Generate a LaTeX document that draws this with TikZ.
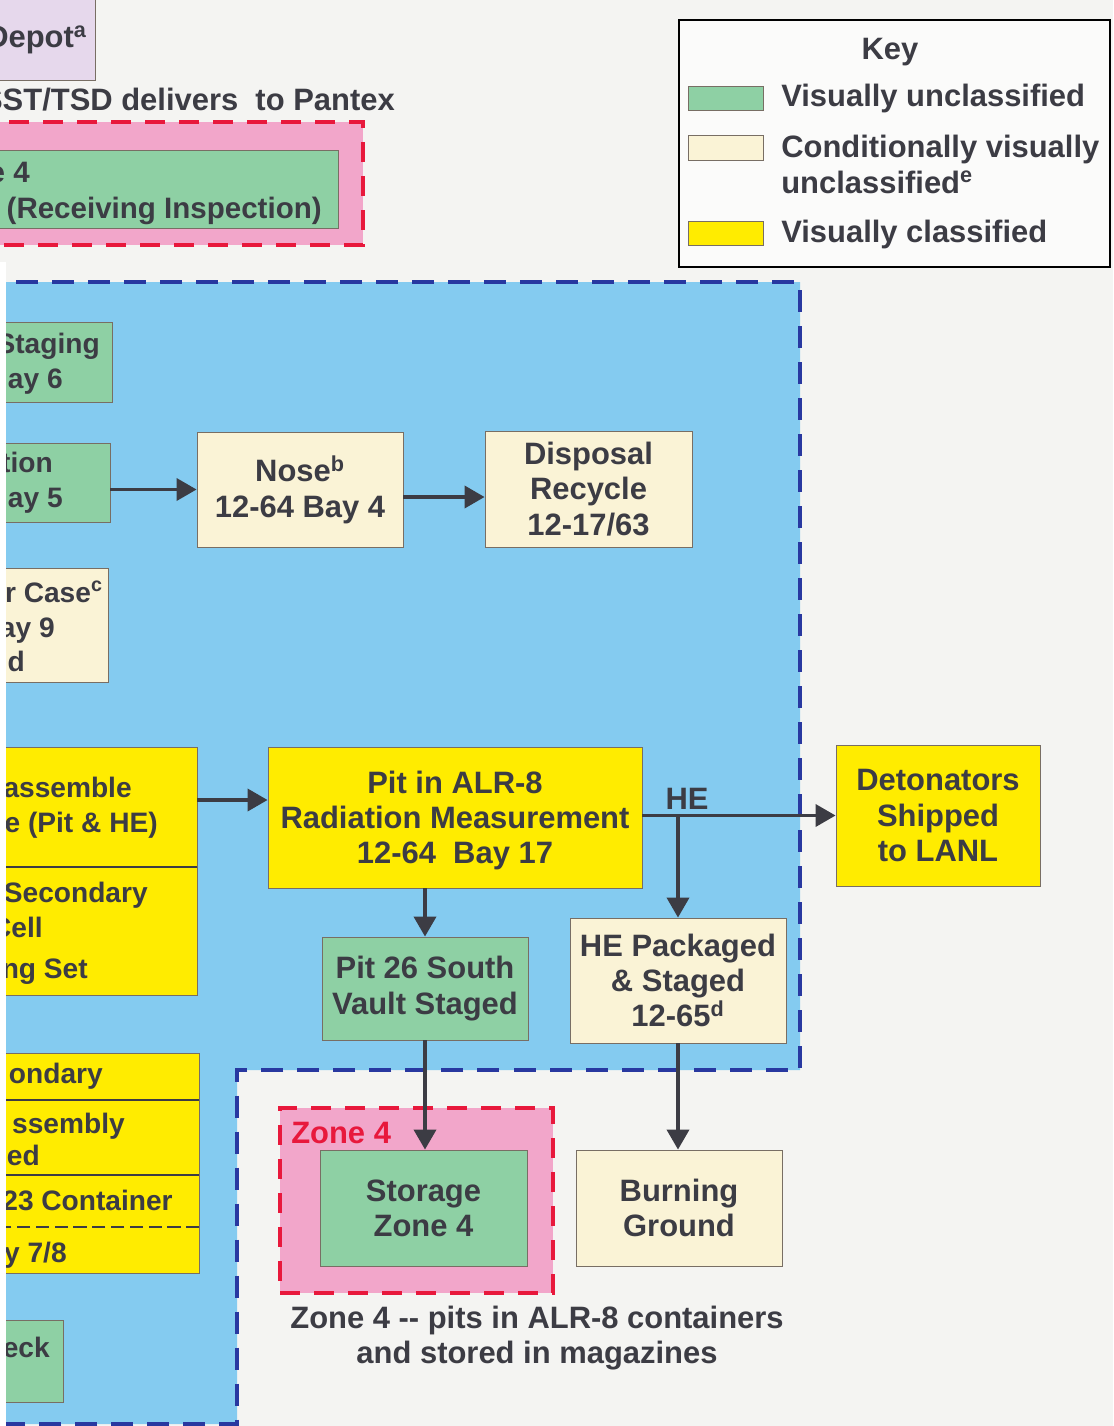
\documentclass[tikz,border=0pt]{standalone}
\usepackage{fontspec}
\setmainfont{Liberation Sans}
\usetikzlibrary{arrows.meta,fit}
\definecolor{bg}{RGB}{244,244,242}
\definecolor{skyb}{RGB}{132,203,240}
\definecolor{grn}{RGB}{142,208,164}
\definecolor{crm}{RGB}{250,243,214}
\definecolor{ylw}{RGB}{255,236,0}
\definecolor{pnk}{RGB}{242,166,202}
\definecolor{lav}{RGB}{230,216,236}
\definecolor{redd}{RGB}{232,24,60}
\definecolor{blud}{RGB}{40,56,160}
\definecolor{txt}{RGB}{60,60,68}
\definecolor{edge}{RGB}{120,110,100}
\begin{document}
\begin{tikzpicture}[x=0.025cm,y=-0.025cm,
  font=\bfseries\fontsize{22}{25}\selectfont, text=txt,
  box/.style={draw=edge, line width=0.6pt, inner sep=0pt, text=txt},
  gbox/.style={box, fill=grn},
  cbox/.style={box, fill=crm},
  ybox/.style={box, fill=ylw},
  arr/.style={draw=txt, line width=2.6pt, -{Triangle[length=0.5cm,width=0.55cm]}},
  dashb/.style={draw=blud, line width=2.8pt, dash pattern=on 0.55cm off 0.35cm},
  dashr/.style={draw=redd, line width=2.8pt, dash pattern=on 0.5cm off 0.35cm},
  lbl/.style={inner sep=0pt, text=txt},
  btxt/.style={lbl, align=center, anchor=center},
  rlbl/.style={lbl, anchor=base east, font=\bfseries\fontsize{20}{24}\selectfont},
  divl/.style={draw=txt, line width=1.8pt}]
\useasboundingbox (0,0) rectangle (1113,1426);
\clip (0,0) rectangle (1113,1426);
\fill[bg] (0,0) rectangle (1113,1426);
% blue region
\fill[skyb] (-20,282) -- (800,282) -- (800,1070) -- (237,1070) -- (237,1424) -- (-20,1424) -- cycle;
\draw[dashb] (-20,282) -- (800,282) -- (800,1070) -- (237,1070) -- (237,1424) -- (-20,1424);
% top left
\node[box, fill=lav, fit={(-60,-10) (95,80)}] (depot) {};
\node[lbl, anchor=base west] (depott) at (-14,48) {Depot\textsuperscript{a}};
\node[lbl, anchor=base east] (sst) at (395,110) {SST/TSD delivers\ \ to Pantex};
\node[fill=pnk, dashr, inner sep=0pt, fit={(-30,122) (363,245)}] (rz) {};
\node[gbox, fit={(-60,150) (338,228)}] (recv) {};
\node[lbl, anchor=base east, font=\bfseries\fontsize{21}{25}\selectfont] (recv1) at (30,182) {e 4};
\node[lbl, anchor=base east, font=\bfseries\fontsize{21}{25}\selectfont] (recv2) at (322,218) {(Receiving Inspection)};
% key
\node[draw=black, line width=1pt, fill=white!60!bg, inner sep=0pt, fit={(679,20) (1110,267)}] (key) {};
\node[lbl, anchor=base] (keyt) at (890,60) {Key};
\node[gbox, fit={(688,86) (763,110)}] (k1) {};
\node[lbl, anchor=base west] (k1t) at (781,107) {Visually unclassified};
\node[cbox, fit={(688,135) (763,160)}] (k2) {};
\node[lbl, anchor=base west] (k2t) at (781,157) {Conditionally visually};
\node[lbl, anchor=base west] (k2u) at (781,193) {unclassified\textsuperscript{e}};
\node[ybox, fit={(688,221) (763,245)}] (k3) {};
\node[lbl, anchor=base west] (k3t) at (781,242) {Visually classified};
% left cut boxes
\node[gbox, fit={(-60,322) (112,402)}] (stg) {};
\node[rlbl] (stg1) at (100,353) {Staging};
\node[rlbl] (stg2) at (63,388) {ay 6};
\node[gbox, fit={(-60,443) (110,522)}] (b5) {};
\node[rlbl] (b51) at (53,472) {tion};
\node[rlbl] (b52) at (63,507) {ay 5};
\node[cbox, fit={(-60,568) (108,682)}] (case) {};
\node[rlbl] (case1) at (103,602) {r Case\textsuperscript{c}};
\node[rlbl] (case2) at (55,637) {ay 9};
\node[rlbl] (case3) at (25,671) {d};
\node[ybox, fit={(-60,747) (197,995)}] (dis) {};
\draw[divl] (dis.east |- 0,867) -- ++(-300,0);
\node[rlbl] (dis1) at (132,797) {assemble};
\node[rlbl] (dis2) at (158,832) {e (Pit \& HE)};
\node[rlbl] (dis3) at (148,902) {Secondary};
\node[rlbl] (dis4) at (43,937) {Cell};
\node[rlbl] (dis5) at (88,978) {ng Set};
\node[ybox, fit={(-60,1053) (199,1273)}] (sec) {};
\draw[divl] (sec.east |- 0,1100) -- ++(-300,0);
\draw[divl] (sec.east |- 0,1175) -- ++(-300,0);
\draw[divl, dash pattern=on 0.33cm off 0.14cm] (sec.east |- 0,1227) -- ++(-300,0);
\node[rlbl] (sec1) at (103,1083) {ondary};
\node[rlbl] (sec2) at (125,1133) {ssembly};
\node[rlbl] (sec3) at (40,1165) {ed};
\node[rlbl] (sec4) at (173,1210) {23 Container};
\node[rlbl] (sec5) at (67,1262) {y 7/8};
\node[gbox, fit={(-60,1320) (63,1402)}] (chk) {};
\node[rlbl] (chk1) at (50,1357) {eck};
% main boxes
\node[cbox, fit={(197,432) (403,547)}] (nose) {};
\node[btxt] (noset) at (nose.center) {Nose\textsuperscript{b}\\12-64 Bay 4};
\node[cbox, fit={(485,431) (692,547)}] (disp) {};
\node[btxt] (dispt) at (disp.center) {Disposal\\Recycle\\12-17/63};
\node[ybox, fit={(268,747) (642,888)}] (pit) {};
\node[btxt] (pitt) at ([yshift=-0.07cm]pit.center) {Pit in ALR-8\\Radiation Measurement\\12-64\ \ Bay 17};
\node[ybox, fit={(836,745) (1040,886)}] (det) {};
\node[btxt] (dett) at (det.center) {Detonators\\Shipped\\to LANL};
\node[gbox, fit={(322,937) (528,1040)}] (p26) {};
\node[btxt] (p26t) at (p26.center) {Pit 26 South\\Vault Staged};
\node[cbox, fit={(570,918) (786,1043)}] (hep) {};
\node[btxt] (hept) at (hep.center) {HE Packaged\\\& Staged\\12-65\textsuperscript{d}};
\node[fill=pnk, dashr, inner sep=0pt, fit={(280,1108) (553,1293)}] (z4) {};
\node[lbl, anchor=base west, text=redd] (z4t) at (291,1143) {Zone 4};
\node[gbox, fit={(320,1150) (527,1266)}] (stor) {};
\node[btxt] (stort) at (stor.center) {Storage\\Zone 4};
\node[cbox, fit={(576,1150) (782,1266)}] (burn) {};
\node[btxt] (burnt) at (burn.center) {Burning\\Ground};
\node[btxt] (cap) at (537,1338) {Zone 4 -{}- pits in ALR-8 containers\\and stored in magazines};
% arrows
\draw[arr] (b5.east |- nose.west) -- (nose.west);
\draw[arr] (nose.east |- 0,497) -- (disp.west |- 0,497);
\draw[arr] (dis.east |- 0,800) -- (pit.west |- 0,800);
\draw[arr] (pit.east |- det.west) -- (det.west);
\draw[arr] (hep.north |- det.west) -- (hep.north);
\node[lbl, anchor=base] (he) at (687,809) {HE};
\draw[arr] (pit.south -| p26.north) -- (p26.north);
\draw[arr] (p26.south) -- (p26.south |- stor.north);
\draw[arr] (hep.south) -- (hep.south |- burn.north);
% scan strip
\fill[white] (0,262) rectangle (6,1426);
\end{tikzpicture}
\end{document}
